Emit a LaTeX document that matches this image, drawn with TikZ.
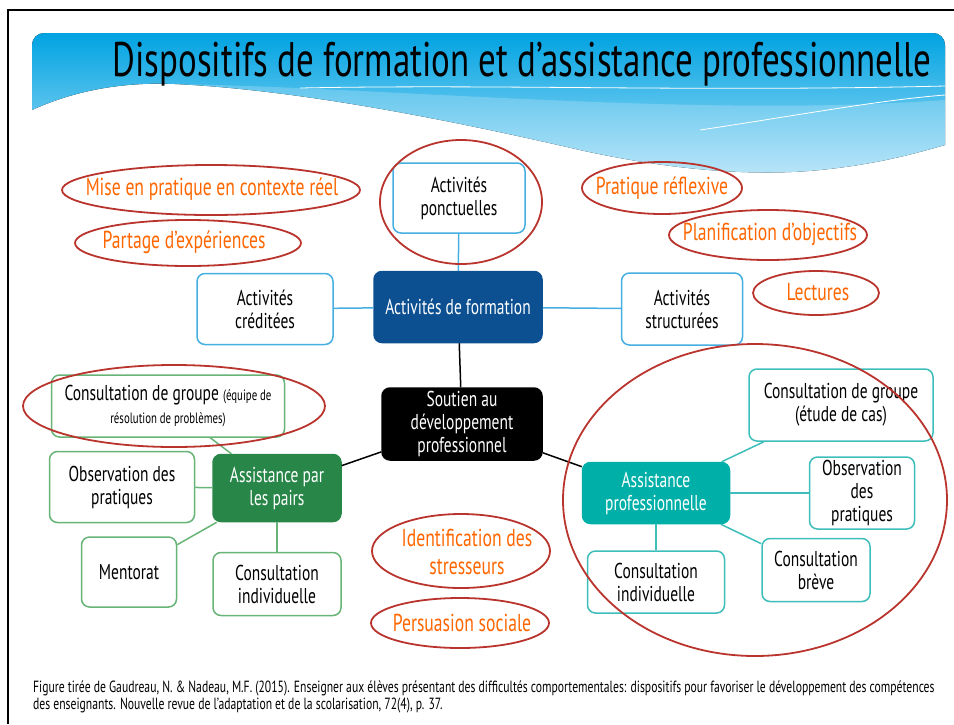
\documentclass[tikz,border=0pt]{standalone}
\usepackage{fontspec}
\setmainfont{PT Sans}[FakeStretch=0.72]
\usetikzlibrary{positioning}
\definecolor{skyblue}{RGB}{0,163,226}
\definecolor{paleblue}{RGB}{168,223,247}
\definecolor{lineblue}{RGB}{70,175,225}
\definecolor{darkblue}{RGB}{12,80,146}
\definecolor{peergreen}{RGB}{40,134,72}
\definecolor{lightgreen}{RGB}{104,180,118}
\definecolor{teal}{RGB}{0,176,168}
\definecolor{lightteal}{RGB}{62,190,186}
\definecolor{tagorange}{RGB}{255,102,0}
\definecolor{ringred}{RGB}{186,52,46}
\begin{document}
\begin{tikzpicture}[x=1pt,y=-1pt]
	\tikzstyle{every node}+=[inner sep=0pt]
	\tikzstyle{box}=[draw,fill=white,rounded corners=8pt,line width=1.5pt,align=center,font=\fontsize{21.5}{23}\selectfont]
	\tikzstyle{bluebox}=[box,draw=lineblue]
	\tikzstyle{greenbox}=[box,draw=lightgreen]
	\tikzstyle{tealbox}=[box,draw=lightteal]
	\tikzstyle{hub}=[box,text=white]
	\tikzstyle{tag}=[align=center,text=tagorange,font=\fontsize{24.5}{28}\selectfont]
	\tikzstyle{ring}=[draw=ringred,line width=1.8pt]
	\useasboundingbox (0,0) rectangle (954,724);
	% frame
	\draw [line width=2pt] (8,724) -- (8,10) -- (954,10);
	% banner
	\fill [top color=skyblue,bottom color=paleblue] (32,110) [rounded corners=12pt] -- (32,33) -- (945,33) [sharp corners] -- (945,145)
		.. controls (920,152) and (880,164) .. (820,170) .. controls (760,176) and (680,172) .. (580,150)
		.. controls (450,120) and (300,90) .. (175,84) .. controls (130,82) and (80,88) .. (32,110) -- cycle;
	\begin{scope}
		\clip (32,110) -- (32,33) -- (945,33) -- (945,145)
			.. controls (920,152) and (880,164) .. (820,170) .. controls (760,176) and (680,172) .. (580,150)
			.. controls (450,120) and (300,90) .. (175,84) .. controls (130,82) and (80,88) .. (32,110) -- cycle;
		\fill [white,opacity=0.2] (175,84) .. controls (400,88) and (700,118) .. (945,100) -- (945,180) -- (175,180) -- cycle;
		\draw [white,line width=0.8pt] (300,88) .. controls (500,84) and (700,92) .. (945,86);
		\draw [white,line width=0.8pt] (700,130) .. controls (800,115) and (880,100) .. (945,95);
	\end{scope}
	\node [font=\fontsize{48.5}{52}\selectfont] (title) at (522,64) {Dispositifs de formation et d’assistance professionnelle};
	% activites de formation
	\node [hub,fill=darkblue,draw=darkblue,minimum width=168,minimum height=71] (form) at (458,307) {Activités de formation};
	\node [bluebox,minimum width=132,minimum height=70] (ponct) at (459,198) {Activités\\ponctuelles};
	\node [bluebox,minimum width=136,minimum height=71] (cred) at (265,309) {Activités\\créditées};
	\node [bluebox,minimum width=121,minimum height=72] (struct) at (682,309) {Activités\\structurées};
	\node [hub,fill=black,draw=black,minimum width=160,minimum height=72] (soutien) at (462,424) {Soutien au\\développement\\professionnel};
	% assistance par les pairs
	\node [hub,fill=peergreen,draw=peergreen,minimum width=128,minimum height=67] (pairs) at (277,488) {Assistance par\\les pairs};
	\node [greenbox,minimum width=233,minimum height=62] (pgroup) at (168,406) {Consultation de groupe {\fontsize{15}{17}\selectfont(équipe de}\\{\fontsize{15}{17}\selectfont résolution de problèmes)}};
	\node [greenbox,minimum width=145,minimum height=71] (pobs) at (122,487) {Observation des\\pratiques};
	\node [greenbox,minimum width=95,minimum height=70] (pment) at (129,572) {Mentorat};
	\node [greenbox,minimum width=128,minimum height=63] (pindiv) at (277,584) {Consultation\\individuelle};
	% assistance professionnelle
	\node [hub,fill=teal,draw=teal,minimum width=147,minimum height=61] (prof) at (656,493) {Assistance\\professionnelle};
	\node [tealbox,minimum width=184,minimum height=72] (rgroup) at (841,405) {Consultation de groupe\\(étude de cas)};
	\node [tealbox,minimum width=105,minimum height=72] (robs) at (862,493) {Observation\\des\\pratiques};
	\node [tealbox,minimum width=108,minimum height=63] (rbreve) at (816,570) {Consultation\\brève};
	\node [tealbox,minimum width=137,minimum height=62] (rindiv) at (656,582) {Consultation\\individuelle};
	% liens
	\draw [lineblue,line width=1.5pt] (ponct) -- (form);
	\draw [lineblue,line width=1.5pt] (cred) -- (form);
	\draw [lineblue,line width=1.5pt] (form) -- (struct);
	\draw [line width=1.5pt] (form) -- (soutien);
	\draw [line width=1.5pt] (soutien) -- (pairs);
	\draw [line width=1.5pt] (soutien) -- (prof);
	\draw [lightgreen,line width=1.5pt] (pairs) -- (pgroup);
	\draw [lightgreen,line width=1.5pt] (pairs) -- (pobs);
	\draw [lightgreen,line width=1.5pt] (pairs) -- (pment);
	\draw [lightgreen,line width=1.5pt] (pairs) -- (pindiv);
	\draw [lightteal,line width=1.5pt] (prof) -- (rgroup);
	\draw [lightteal,line width=1.5pt] (prof) -- (robs);
	\draw [lightteal,line width=1.5pt] (prof) -- (rbreve);
	\draw [lightteal,line width=1.5pt] (prof) -- (rindiv);
	% etiquettes
	\node [tag] (mise) at (212,189) {Mise en pratique en contexte réel};
	\node [tag] (partage) at (184,242) {Partage d’expériences};
	\node [tag] (reflex) at (662,188) {Pratique réflexive};
	\node [tag] (planif) at (770,234) {Planification d’objectifs};
	\node [tag] (lect) at (818,292) {Lectures};
	\node [tag] (stress) at (467,552) {Identification des\\stresseurs};
	\node [tag] (persu) at (462,623) {Persuasion sociale};
	\draw [ring] (211,190) ellipse [x radius=149,y radius=25];
	\draw [ring] (188,243) ellipse [x radius=113,y radius=23];
	\draw [ring] (662,188) ellipse [x radius=80,y radius=26];
	\draw [ring] (768,235) ellipse [x radius=99,y radius=25];
	\draw [ring] (816,293) ellipse [x radius=63,y radius=22];
	\draw [ring] (461,551) ellipse [x radius=89,y radius=37];
	\draw [ring] (460,623) ellipse [x radius=89,y radius=25];
	\draw [ring] (461,202) ellipse [x radius=81,y radius=62];
	\draw [ring] (174,406) ellipse [x radius=151,y radius=41];
	\draw [ring] (755,500) ellipse [x radius=192,y radius=156];
	% source
	\node [anchor=west,align=left,font=\fontsize{16.2}{17}\selectfont] (source) at (33,697) {Figure tirée de Gaudreau, N. \& Nadeau, M.F. (2015). Enseigner aux élèves présentant des difficultés comportementales: dispositifs pour favoriser le développement des compétences\\des enseignants. Nouvelle revue de l’adaptation et de la scolarisation, 72(4), p. 37.};
\end{tikzpicture}
\end{document}
